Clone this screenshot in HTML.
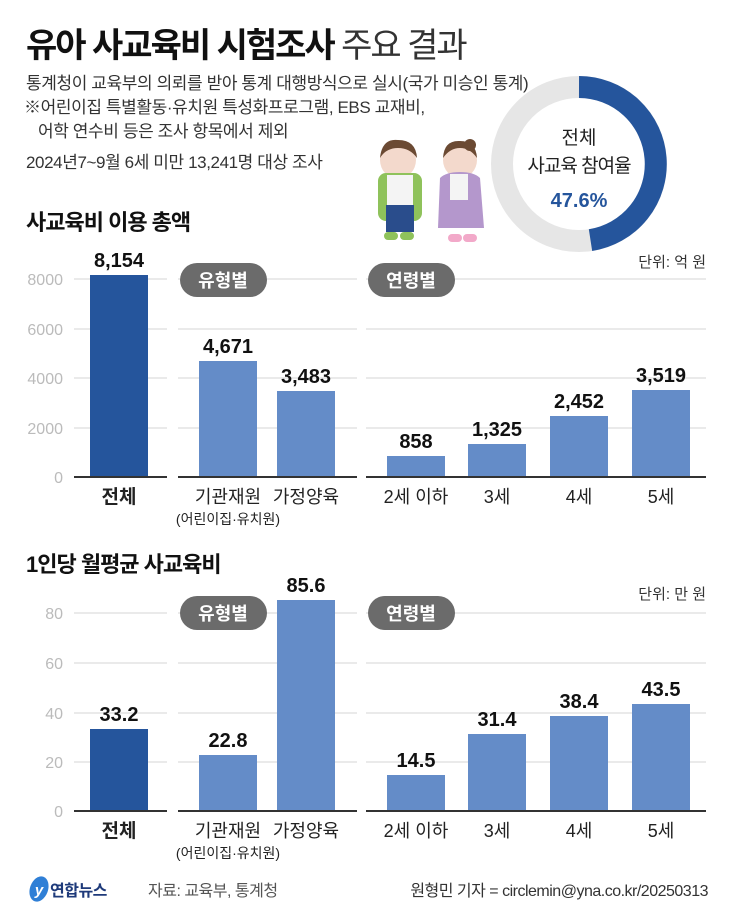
<!DOCTYPE html>
<html><head><meta charset="utf-8"><style>
body{margin:0;background:#fff;}
svg text{font-family:"Liberation Sans","Noto Sans CJK KR",sans-serif;}
</style></head><body>
<svg width="730" height="910" viewBox="0 0 730 910" xmlns="http://www.w3.org/2000/svg">
<rect width="730" height="910" fill="#fff"/>
<text x="26" y="57" font-size="34" font-weight="bold" fill="#111" letter-spacing="-2">유아 사교육비 시험조사 <tspan font-weight="normal" fill="#333">주요 결과</tspan></text>
<g font-size="17" fill="#333" letter-spacing="-0.4">
<text x="26" y="89">통계청이 교육부의 의뢰를 받아 통계 대행방식으로 실시(국가 미승인 통계)</text>
<text x="24" y="113">※어린이집 특별활동·유치원 특성화프로그램, EBS 교재비,</text>
<text x="38" y="137">어학 연수비 등은 조사 항목에서 제외</text>
<text x="26" y="168">2024년7~9월 6세 미만 13,241명 대상 조사</text>
</g>
<circle cx="579" cy="164" r="77" fill="none" stroke="#e6e6e6" stroke-width="22"/>
<path d="M579 87 A77 77 0 0 1 590.5 240.1" fill="none" stroke="#25559c" stroke-width="22"/>
<text x="579" y="144" font-size="19" fill="#222" text-anchor="middle">전체</text>
<text x="579" y="172" font-size="19" fill="#222" text-anchor="middle" letter-spacing="-1">사교육 참여율</text>
<text x="579" y="207" font-size="20" font-weight="bold" fill="#25559c" text-anchor="middle">47.6%</text>
<g>
<ellipse cx="398" cy="160" rx="18" ry="19" fill="#f3d9cc"/>
<path d="M380 158 Q382 138 398 140 Q416 140 417 158 Q410 148 398 148 Q386 148 380 158Z" fill="#6b4a33"/>
<rect x="378" y="173" width="44" height="48" rx="8" fill="#8fc25b"/>
<rect x="387" y="175" width="26" height="44" fill="#f4f4f4"/>
<rect x="386" y="205" width="28" height="27" fill="#2a4d8c"/>
<rect x="384" y="232" width="14" height="8" rx="4" fill="#8fc25b"/>
<rect x="400" y="232" width="14" height="8" rx="4" fill="#8fc25b"/>
<ellipse cx="460" cy="160" rx="17" ry="18" fill="#f3d9cc"/>
<path d="M443 158 Q444 140 460 141 Q476 141 477 158 Q470 148 460 148 Q450 148 443 158Z" fill="#6b4a33"/>
<circle cx="470" cy="145" r="6" fill="#6b4a33"/>
<path d="M440 178 Q446 172 460 172 Q474 172 480 178 L484 228 L438 228Z" fill="#b497cc"/>
<rect x="450" y="174" width="18" height="26" fill="#f4f4f4"/>
<rect x="448" y="234" width="14" height="8" rx="4" fill="#f2a9c9"/>
<rect x="463" y="234" width="14" height="8" rx="4" fill="#f2a9c9"/>
</g>
<text x="26" y="230" font-size="22" font-weight="bold" fill="#111" letter-spacing="-1">사교육비 이용 총액</text>
<text x="706" y="267" font-size="15" fill="#333" text-anchor="end">단위: 억 원</text>
<g stroke="#d6d6d6" stroke-width="1">
<line x1="74" x2="167" y1="279" y2="279"/><line x1="178" x2="357" y1="279" y2="279"/><line x1="366" x2="706" y1="279" y2="279"/>
<line x1="74" x2="167" y1="329" y2="329"/><line x1="178" x2="357" y1="329" y2="329"/><line x1="366" x2="706" y1="329" y2="329"/>
<line x1="74" x2="167" y1="378" y2="378"/><line x1="178" x2="357" y1="378" y2="378"/><line x1="366" x2="706" y1="378" y2="378"/>
<line x1="74" x2="167" y1="428" y2="428"/><line x1="178" x2="357" y1="428" y2="428"/><line x1="366" x2="706" y1="428" y2="428"/>
</g>
<g font-size="16" fill="#bbb" text-anchor="end">
<text x="63" y="285">8000</text><text x="63" y="335">6000</text><text x="63" y="384">4000</text><text x="63" y="434">2000</text><text x="63" y="483">0</text>
</g>
<rect x="90" y="275" width="58" height="202" fill="#25559c"/>
<g fill="#648cc8">
<rect x="199" y="361" width="58" height="116"/><rect x="277" y="391" width="58" height="86"/>
<rect x="387" y="456" width="58" height="21"/><rect x="468" y="444" width="58" height="33"/>
<rect x="550" y="416" width="58" height="61"/><rect x="632" y="390" width="58" height="87"/>
</g>
<g stroke="#333" stroke-width="2"><line x1="74" x2="167" y1="477" y2="477"/><line x1="178" x2="357" y1="477" y2="477"/><line x1="366" x2="706" y1="477" y2="477"/></g>
<rect x="180" y="263" width="87" height="34" rx="17" fill="#6b6b6b"/>
<text x="223" y="287" font-size="18" font-weight="bold" fill="#fff" text-anchor="middle">유형별</text>
<rect x="368" y="263" width="87" height="34" rx="17" fill="#6b6b6b"/>
<text x="411" y="287" font-size="18" font-weight="bold" fill="#fff" text-anchor="middle">연령별</text>
<g font-size="20" font-weight="bold" fill="#111" text-anchor="middle">
<text x="119" y="267">8,154</text><text x="228" y="353">4,671</text><text x="306" y="383">3,483</text>
<text x="416" y="448">858</text><text x="497" y="436">1,325</text><text x="579" y="408">2,452</text><text x="661" y="382">3,519</text>
</g>
<g font-size="18" fill="#222" text-anchor="middle">
<text x="119" y="503" font-weight="bold" font-size="19">전체</text>
<text x="228" y="503">기관재원</text><text x="306" y="503">가정양육</text>
<text x="416" y="503">2세 이하</text><text x="497" y="503">3세</text><text x="579" y="503">4세</text><text x="661" y="503">5세</text>
<text x="228" y="524" font-size="14">(어린이집·유치원)</text>
</g>
<text x="26" y="572" font-size="22" font-weight="bold" fill="#111" letter-spacing="-1">1인당 월평균 사교육비</text>
<text x="706" y="599" font-size="15" fill="#333" text-anchor="end">단위: 만 원</text>
<g stroke="#d6d6d6" stroke-width="1">
<line x1="74" x2="167" y1="613" y2="613"/><line x1="178" x2="357" y1="613" y2="613"/><line x1="366" x2="706" y1="613" y2="613"/>
<line x1="74" x2="167" y1="663" y2="663"/><line x1="178" x2="357" y1="663" y2="663"/><line x1="366" x2="706" y1="663" y2="663"/>
<line x1="74" x2="167" y1="713" y2="713"/><line x1="178" x2="357" y1="713" y2="713"/><line x1="366" x2="706" y1="713" y2="713"/>
<line x1="74" x2="167" y1="762" y2="762"/><line x1="178" x2="357" y1="762" y2="762"/><line x1="366" x2="706" y1="762" y2="762"/>
</g>
<g font-size="16" fill="#bbb" text-anchor="end">
<text x="63" y="619">80</text><text x="63" y="669">60</text><text x="63" y="719">40</text><text x="63" y="768">20</text><text x="63" y="817">0</text>
</g>
<rect x="90" y="729" width="58" height="82" fill="#25559c"/>
<g fill="#648cc8">
<rect x="199" y="755" width="58" height="56"/><rect x="277" y="600" width="58" height="211"/>
<rect x="387" y="775" width="58" height="36"/><rect x="468" y="734" width="58" height="77"/>
<rect x="550" y="716" width="58" height="95"/><rect x="632" y="704" width="58" height="107"/>
</g>
<g stroke="#333" stroke-width="2"><line x1="74" x2="167" y1="811" y2="811"/><line x1="178" x2="357" y1="811" y2="811"/><line x1="366" x2="706" y1="811" y2="811"/></g>
<rect x="180" y="596" width="87" height="34" rx="17" fill="#6b6b6b"/>
<text x="223" y="620" font-size="18" font-weight="bold" fill="#fff" text-anchor="middle">유형별</text>
<rect x="368" y="596" width="87" height="34" rx="17" fill="#6b6b6b"/>
<text x="411" y="620" font-size="18" font-weight="bold" fill="#fff" text-anchor="middle">연령별</text>
<g font-size="20" font-weight="bold" fill="#111" text-anchor="middle">
<text x="119" y="721">33.2</text><text x="228" y="747">22.8</text><text x="306" y="592">85.6</text>
<text x="416" y="767">14.5</text><text x="497" y="726">31.4</text><text x="579" y="708">38.4</text><text x="661" y="696">43.5</text>
</g>
<g font-size="18" fill="#222" text-anchor="middle">
<text x="119" y="837" font-weight="bold" font-size="19">전체</text>
<text x="228" y="837">기관재원</text><text x="306" y="837">가정양육</text>
<text x="416" y="837">2세 이하</text><text x="497" y="837">3세</text><text x="579" y="837">4세</text><text x="661" y="837">5세</text>
<text x="228" y="858" font-size="14">(어린이집·유치원)</text>
</g>
<ellipse cx="39" cy="889" rx="9" ry="13" fill="#2f7fd6" transform="rotate(20 39 889)"/>
<text x="39" y="895" font-size="15" font-weight="bold" fill="#fff" text-anchor="middle" font-style="italic">y</text>
<text x="50" y="896" font-size="16" font-weight="bold" fill="#1e3a7a" letter-spacing="-0.5">연합뉴스</text>
<text x="148" y="896" font-size="16" fill="#555" letter-spacing="-0.5">자료: 교육부, 통계청</text>
<text x="708" y="896" font-size="16" fill="#333" text-anchor="end" letter-spacing="-0.5">원형민 기자 = circlemin@yna.co.kr/20250313</text>
</svg>
</body></html>
